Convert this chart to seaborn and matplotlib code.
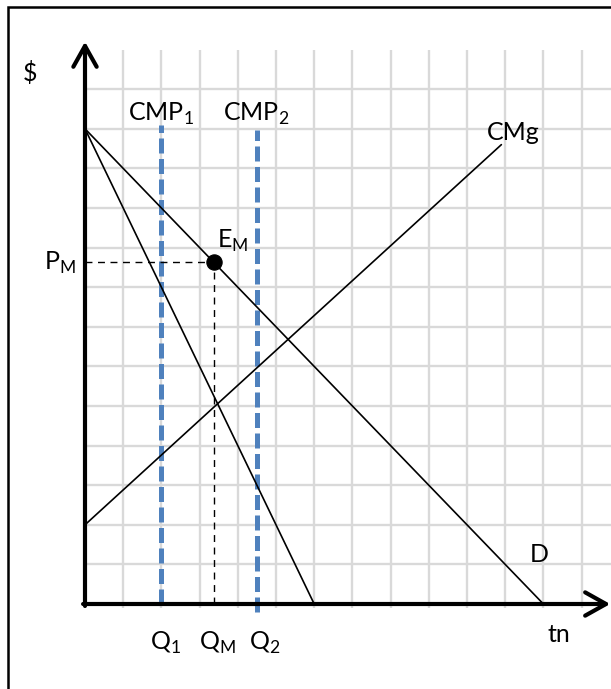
import pandas as pd
import seaborn as sns
import matplotlib.pyplot as plt
from matplotlib.patches import Rectangle

# Curves (quantity, price)
demand_q = [0, 12]
demand_p = [12, 0]
img_q = [0, 6]
img_p = [12, 0]
cmg_q = [0, 10.9]
cmg_p = [2, 11.6]

# Capacity limits (vertical dashed blue lines)
cmp_names = ['CMP1', 'CMP2']
cmp_q = [2.0, 4.5]
cmp_top = [12.1, 11.97]
cmp_bottom = [0.0, -0.2]

# Monopoly equilibrium
qm = 3.37
pm = 8.63

# grid cells
grid_x = list(range(1, 14))
grid_y = list(range(1, 14))

sns.set_theme(style='white')
plt.rcParams['font.family'] = ['Lato', 'DejaVu Sans']
plt.rcParams['mathtext.fontset'] = 'custom'
plt.rcParams['mathtext.rm'] = 'Lato'
plt.rcParams['text.color'] = 'black'

fig = plt.figure(figsize=(6.11, 6.89), dpi=100)
ax = fig.add_axes([0, 0, 1, 1])
# origin at pixel (85, 604), 38.2 px per unit in x, 39.6 px per unit in y
ax.set_xlim(-85 / 38.2, (611 - 85) / 38.2)
ax.set_ylim(-(689 - 604) / 39.6, 604 / 39.6)
ax.axis('off')

# outer frame (right and bottom edges fall outside the picture)
fig.patches.append(Rectangle((8 / 611, -0.1), 1.2, 1 - 7 / 689 + 0.1,
                             transform=fig.transFigure, fill=False,
                             edgecolor='black', linewidth=1.8))

# light grid
ax.vlines(grid_x, -0.1, 14, color='#d9d9d9', linewidth=1.7, zorder=1)
ax.hlines(grid_y, 0, 14, color='#d9d9d9', linewidth=1.7, zorder=1)

# axes with open arrow heads
arrow = dict(arrowstyle='->,head_length=0.75,head_width=0.42', lw=3,
             color='black', mutation_scale=20, shrinkA=0, shrinkB=0)
ax.annotate('', xy=(0, 14.2), xytext=(0, -0.05), arrowprops=arrow, zorder=5)
ax.annotate('', xy=(13.75, 0), xytext=(-0.05, 0), arrowprops=arrow, zorder=5)

# demand, marginal revenue and marginal cost
for q, p in [(demand_q, demand_p), (img_q, img_p), (cmg_q, cmg_p)]:
    sns.lineplot(x=q, y=p, ax=ax, color='black', linewidth=1.2,
                 sort=False, zorder=4)

# capacity lines
for name, q, top, bot in zip(cmp_names, cmp_q, cmp_top, cmp_bottom):
    ax.plot([q, q], [bot, top], color='#4f81bd', linewidth=3.6,
            dashes=(3, 1.1), zorder=3)

# equilibrium guides and point
ax.plot([0, qm], [pm, pm], color='black', linewidth=1.0, dashes=(5, 4), zorder=3)
ax.plot([qm, qm], [0, pm], color='black', linewidth=1.0, dashes=(5, 4), zorder=3)
sns.scatterplot(x=[qm], y=[pm], ax=ax, color='black', s=120,
                edgecolor='black', zorder=6)

fs = 18
ax.text(-1.44, 13.41, '$', fontsize=fs, ha='center', va='center')
ax.text(1.13, 12.21, r'CMP$_\mathregular{1}$', fontsize=fs)
ax.text(3.61, 12.21, r'CMP$_\mathregular{2}$', fontsize=fs)
ax.text(10.52, 11.72, 'CMg', fontsize=fs)
ax.text(-1.07, 8.43, r'P$_\mathregular{M}$', fontsize=fs)
ax.text(3.45, 8.99, r'E$_\mathregular{M}$', fontsize=fs)
ax.text(11.65, 1.06, 'D', fontsize=fs)
ax.text(12.12, -0.96, 'tn', fontsize=fs)
ax.text(1.70, -1.16, r'Q$_\mathregular{1}$', fontsize=fs)
ax.text(2.98, -1.16, r'Q$_\mathregular{M}$', fontsize=fs)
ax.text(4.29, -1.16, r'Q$_\mathregular{2}$', fontsize=fs)

fig.savefig('out.png', dpi=100)
